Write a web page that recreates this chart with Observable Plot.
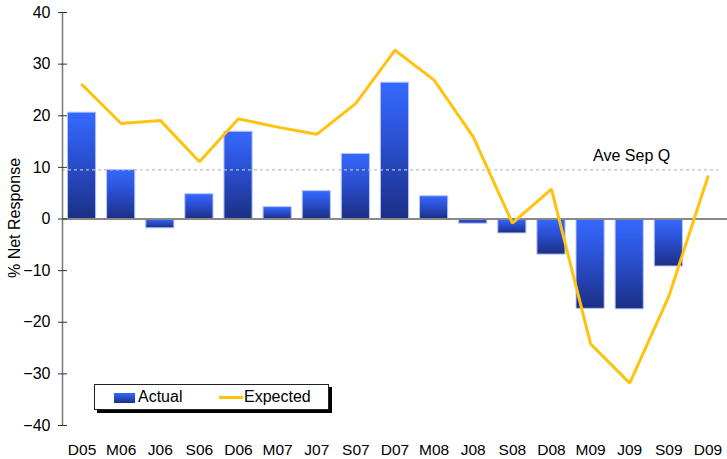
<!DOCTYPE html>
<html>
<head>
<meta charset="utf-8">
<script src="https://cdn.jsdelivr.net/npm/d3@7"></script>
<script src="https://cdn.jsdelivr.net/npm/@observablehq/plot@0.6"></script>
<style>
  html, body { margin: 0; padding: 0; background: #fff; }
  #wrap { position: relative; width: 727px; height: 459px; font-family: "Liberation Sans", Arial, sans-serif; }
  #legend { position: absolute; left: 94px; top: 384px; width: 233px; height: 24px; border: 1px solid #222; background: #fff; box-shadow: 3px 3px 0 #000; font-size: 16px; color: #000; }
  #legend .sw { position: absolute; left: 19px; top: 8px; width: 21px; height: 10px; background: linear-gradient(#3468ff, #1b2f85); }
  #legend .t1 { position: absolute; left: 43px; top: 3px; }
  #legend .ln { position: absolute; left: 124px; top: 11px; width: 24px; height: 3px; background: #ffc20e; }
  #legend .t2 { position: absolute; left: 149px; top: 3px; }
</style>
</head>
<body>
<svg width="0" height="0" style="position:absolute">
  <defs>
    <linearGradient id="barGrad" x1="0" y1="0" x2="0" y2="1">
      <stop offset="0" stop-color="#3569ff"/>
      <stop offset="0.45" stop-color="#2a4fd0"/>
      <stop offset="1" stop-color="#1b2f84"/>
    </linearGradient>
  </defs>
</svg>
<div id="wrap">
  <div id="chart"></div>
  <div id="legend"><div class="sw"></div><span class="t1">Actual</span><div class="ln"></div><span class="t2">Expected</span></div>
</div>
<script>
const categories = ["D05","M06","J06","S06","D06","M07","J07","S07","D07","M08","J08","S08","D08","M09","J09","S09","D09"];
const actual = [20.6, 9.5, -1.8, 4.8, 16.9, 2.3, 5.4, 12.6, 26.4, 4.4, -0.9, -2.8, -6.9, -17.4, -17.5, -9.2];
const expected = [26.0, 18.5, 19.1, 11.1, 19.4, 17.8, 16.4, 22.4, 32.7, 26.9, 15.9, -0.8, 5.8, -24.2, -31.8, -15.0, 8.2];
const aveSepQ = 9.5;
const yTicks = [-40, -30, -20, -10, 0, 10, 20, 30, 40];

const barData = actual.map((v, i) => ({i, v}));
const lineData = expected.map((v, i) => ({i, v}));
const halfBar = 0.36;

const chart = Plot.plot({
  width: 727,
  height: 459,
  marginLeft: 62,
  marginRight: 0,
  marginTop: 12,
  marginBottom: 34,
  style: {fontFamily: "'Liberation Sans', Arial, sans-serif", fontSize: "16px", color: "#000", background: "#fff"},
  x: {type: "linear", domain: [-0.5, categories.length - 0.5]},
  y: {domain: [-40, 40]},
  marks: [
    Plot.rect(barData, {x1: d => d.i - halfBar, x2: d => d.i + halfBar, y1: () => 0, y2: "v", fill: "url(#barGrad)", stroke: "#b4c4ff", strokeWidth: 1}),
    Plot.ruleY([aveSepQ], {x1: -0.5, x2: 16.27, stroke: "#c0c0c0", strokeWidth: 1.2, strokeDasharray: "3,3"}),
    Plot.text(["Ave Sep Q"], {x: 14.05, y: aveSepQ, dy: -14, text: d => d, fontSize: 16, fill: "#000"}),
    Plot.ruleY([0], {x1: -0.5, x2: categories.length - 0.5, stroke: "#888", strokeWidth: 2}),
    Plot.line(lineData, {x: "i", y: "v", stroke: "#ffc20e", strokeWidth: 3, strokeLinejoin: "miter"}),
    Plot.ruleX([-0.5], {y1: -40, y2: 40, stroke: "#777", strokeWidth: 1.5}),
    Plot.axisY({ticks: yTicks, tickSize: 9, dx: 5, tickFormat: () => "", stroke: "#333", label: null}),
    Plot.axisY({ticks: yTicks, tickSize: 0, tickPadding: 12, fontSize: 16, label: null}),
    Plot.axisX({ticks: d3.range(categories.length), tickSize: 0, tickPadding: 18, tickFormat: i => categories[i], fontSize: 15.5, label: null})
  ]
});

d3.select(chart).append("text")
  .attr("transform", "translate(14,218) rotate(-90)")
  .attr("text-anchor", "middle")
  .attr("dominant-baseline", "central")
  .attr("font-size", 16)
  .attr("fill", "#000")
  .text("% Net Response");

document.getElementById("chart").appendChild(chart);
</script>
</body>
</html>
